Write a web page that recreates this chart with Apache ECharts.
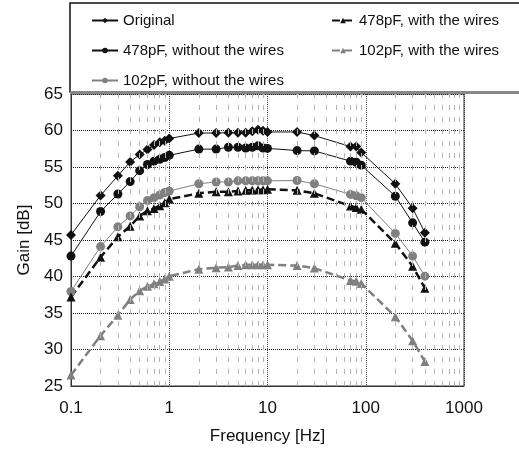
<!DOCTYPE html>
<html>
<head>
<meta charset="utf-8">
<script src="https://cdn.jsdelivr.net/npm/echarts@6/dist/echarts.min.js"></script>
<style>
  html, body { margin: 0; padding: 0; background: #fff; }
  #chart { width: 519px; height: 450px; }
</style>
</head>
<body>
<div id="chart"></div>
<script>
// frequency points [Hz]
const freq = [0.1, 0.2, 0.3, 0.4, 0.5, 0.6, 0.7, 0.8, 0.9, 1,
  2, 3, 4, 5, 6, 7, 8, 9, 10,
  20, 30, 70, 80, 90, 200, 300, 400];

// gain [dB]
const original = [45.7, 51.1, 53.8, 55.7, 56.7, 57.4, 58.0, 58.4, 58.6, 58.9,
  59.65, 59.65, 59.7, 59.7, 59.7, 59.9, 60.1, 59.95, 59.8,
  59.8, 59.3, 57.8, 57.8, 57.0, 52.7, 49.35, 46.0];
const c478NoWires = [42.8, 48.9, 51.3, 53.0, 54.5, 55.35, 55.8, 56.05, 56.3, 56.6,
  57.45, 57.45, 57.7, 57.7, 57.6, 57.7, 57.9, 57.6, 57.55,
  57.25, 57.2, 55.8, 55.65, 55.25, 51.0, 47.35, 44.7];
const c102NoWires = [37.95, 44.1, 46.8, 48.3, 49.55, 50.4, 50.8, 51.15, 51.5, 51.7,
  52.7, 52.95, 52.95, 53.1, 53.1, 53.1, 53.1, 53.1, 53.1,
  53.15, 52.7, 51.25, 51.05, 50.8, 45.9, 42.8, 40.05];
const c478Wires = [37.2, 42.65, 45.45, 46.9, 48.3, 49.0, 49.3, 49.7, 50.1, 50.6,
  51.4, 51.6, 51.6, 51.7, 51.8, 51.85, 51.9, 51.9, 51.95,
  51.8, 51.4, 49.65, 49.45, 49.2, 44.55, 41.4, 38.4];
const c102Wires = [26.5, 31.9, 34.7, 36.85, 38.05, 38.65, 39.0, 39.3, 39.65, 40.05,
  41.0, 41.2, 41.3, 41.5, 41.6, 41.6, 41.6, 41.6, 41.6,
  41.5, 41.15, 39.45, 39.35, 39.05, 34.5, 31.2, 28.35];

const decades = [0.1, 1, 10, 100];
const minorSteps = [2, 3, 4, 5, 6, 7, 8, 9];

const FONT = "Liberation Sans, Arial, sans-serif";

const pairs = (ys) => freq.map((f, i) => [f, ys[i]]);

// minor (2..9) vertical grid lines per decade
const minorLines = [];
decades.forEach((d) => {
  minorSteps.forEach((m) => {
    minorLines.push({ xAxis: +(d * m).toPrecision(3) });
  });
});

const myChart = echarts.init(document.getElementById("chart"));

const solidSeries = (name, data, color, symbol) => ({
  name: name,
  type: "line",
  data: pairs(data),
  symbol: symbol,
  symbolSize: symbol === "diamond" ? 10 : 9,
  itemStyle: { color: color },
  lineStyle: { color: color, width: 1 },
  z: 3,
});

const dashedSeries = (name, data, color) => ({
  name: name,
  type: "line",
  data: pairs(data),
  symbol: "triangle",
  symbolSize: 9,
  itemStyle: { color: color },
  lineStyle: { color: color, width: 2.5, type: [8, 4] },
  z: 3,
});

const legendText = { fontSize: 15, color: "#111", fontFamily: FONT };

myChart.setOption({
  animation: false,
  backgroundColor: "#fff",
  textStyle: { fontFamily: FONT },
  grid: {
    left: 71,
    right: 55,
    top: 94,
    bottom: 62,
    show: true,
    borderColor: "#333",
    borderWidth: 1,
  },
  graphic: [
    {
      type: "rect",
      z: 3,
      shape: { x: 70, y: 3, width: 470, height: 89 },
      style: { fill: "#fff", stroke: "#111", lineWidth: 1.5 },
    },
    {
      type: "line",
      z: 3,
      shape: { x1: 70, y1: 92.5, x2: 519, y2: 92.5 },
      style: { stroke: "#888", lineWidth: 3 },
    },
  ],
  legend: [
    {
      data: ["Original", "478pF, without the wires", "102pF, without the wires"],
      orient: "vertical",
      left: 86,
      top: 8,
      itemWidth: 26,
      itemHeight: 7,
      itemGap: 15,
      textStyle: legendText,
      z: 5,
    },
    {
      data: ["478pF, with the wires", "102pF, with the wires"],
      orient: "vertical",
      left: 326,
      top: 8,
      itemWidth: 22,
      itemHeight: 7,
      itemGap: 15,
      textStyle: legendText,
      z: 5,
    },
  ],
  xAxis: {
    type: "log",
    logBase: 10,
    min: 0.1,
    max: 1000,
    name: "Frequency [Hz]",
    nameLocation: "middle",
    nameGap: 42,
    nameTextStyle: { fontSize: 17, color: "#111", fontFamily: FONT },
    axisLine: { lineStyle: { color: "#333", width: 1 } },
    axisTick: { show: false },
    axisLabel: {
      fontSize: 17,
      color: "#111",
      margin: 14,
      fontFamily: FONT,
      formatter: (v) => String(+v.toPrecision(3)),
    },
    splitLine: { show: true, lineStyle: { color: "#444", width: 1, type: "dotted" } },
  },
  yAxis: {
    type: "value",
    min: 25,
    max: 65,
    interval: 5,
    name: "Gain [dB]",
    nameLocation: "middle",
    nameGap: 30,
    nameTextStyle: { fontSize: 17, color: "#111", fontFamily: FONT },
    axisLine: { show: true, lineStyle: { color: "#333", width: 1 } },
    axisTick: { show: false },
    axisLabel: { fontSize: 17, color: "#111", margin: 8, fontFamily: FONT },
    splitLine: { show: true, lineStyle: { color: "#222", width: 1, type: "dotted" } },
  },
  series: [
    {
      name: "minor",
      type: "line",
      data: [],
      silent: true,
      z: 1,
      markLine: {
        silent: true,
        symbol: "none",
        label: { show: false },
        lineStyle: { color: "#b5b5b5", width: 1, type: [5, 7] },
        data: minorLines,
        animation: false,
      },
    },
    solidSeries("Original", original, "#111", "diamond"),
    solidSeries("478pF, without the wires", c478NoWires, "#111", "circle"),
    solidSeries("102pF, without the wires", c102NoWires, "#808080", "circle"),
    dashedSeries("478pF, with the wires", c478Wires, "#111"),
    dashedSeries("102pF, with the wires", c102Wires, "#808080"),
  ],
});

window.addEventListener("resize", () => {
  myChart && myChart.resize();
});
</script>
</body>
</html>
